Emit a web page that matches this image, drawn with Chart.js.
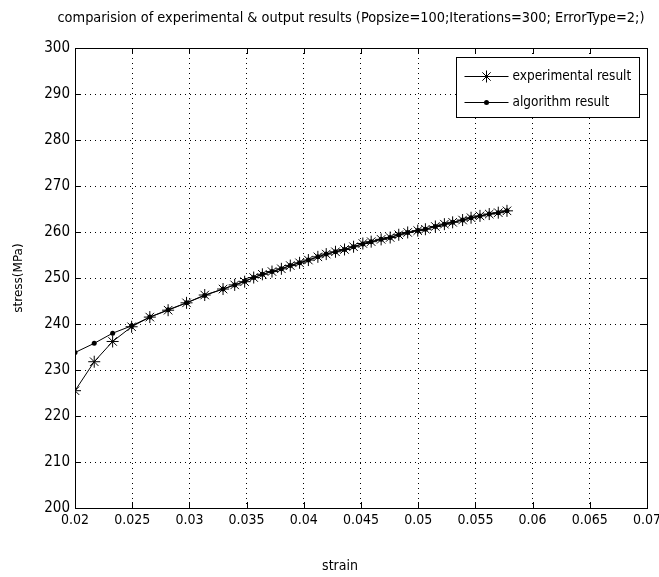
<!DOCTYPE html>
<html>
<head>
<meta charset="utf-8">
<script src="https://cdn.jsdelivr.net/npm/chart.js@4"></script>
<style>
html,body{margin:0;padding:0;background:#fff;}
#wrap{width:659px;height:577px;position:relative;}
</style>
</head>
<body>
<div id="wrap"><canvas id="c" width="659" height="577"></canvas></div>
<script>
const titleText = "comparision of experimental & output results (Popsize=100;Iterations=300; ErrorType=2;)";
const xLabel = "strain";
const yLabel = "stress(MPa)";
const seriesNames = ["experimental result", "algorithm result"];

const strain = [0.0200, 0.02168, 0.02329, 0.02495, 0.02654, 0.02814, 0.02975, 0.03134, 0.03294, 0.03396,
  0.03483, 0.03562, 0.03638, 0.03722, 0.03804, 0.03882, 0.03963, 0.04040, 0.04123, 0.04196,
  0.04277, 0.04356, 0.04435, 0.04516, 0.04589, 0.04676, 0.04755, 0.04830, 0.04908, 0.04996,
  0.05063, 0.05150, 0.05229, 0.05301, 0.05388, 0.05462, 0.05540, 0.05621, 0.05700, 0.05776];

const experimental = [225.5, 231.8, 236.2, 239.4, 241.5, 243.0, 244.6, 246.3, 247.6, 248.5,
  249.2, 250.1, 250.8, 251.4, 252.0, 252.7, 253.3, 253.9, 254.6, 255.2,
  255.7, 256.2, 256.8, 257.5, 257.9, 258.4, 258.8, 259.4, 259.9, 260.3,
  260.6, 261.2, 261.7, 262.1, 262.6, 263.1, 263.5, 263.9, 264.2, 264.6];

const algorithm = [233.8, 235.8, 238.0, 239.6, 241.5, 243.1, 244.6, 246.2, 247.6, 248.5,
  249.3, 250.1, 250.8, 251.4, 252.0, 252.7, 253.3, 253.9, 254.6, 255.2,
  255.7, 256.2, 256.8, 257.4, 257.9, 258.4, 258.8, 259.4, 259.9, 260.3,
  260.6, 261.2, 261.7, 262.1, 262.6, 263.1, 263.5, 263.9, 264.2, 264.6];

const xMin = 0.02, xMax = 0.07, xStep = 0.005;
const yMin = 200, yMax = 300, yStep = 10;

const FONT = '"DejaVu Sans Condensed", "Liberation Sans Narrow", "Liberation Sans", Arial, sans-serif';

const boxPlugin = {
  id: 'boxPlugin',
  afterDraw(chart) {
    const ctx = chart.ctx, a = chart.chartArea;
    const xs = chart.scales.x, ys = chart.scales.y;
    ctx.save();
    ctx.strokeStyle = '#000';
    ctx.lineWidth = 1;
    ctx.strokeRect(Math.round(a.left) + 0.5, Math.round(a.top) + 0.5, Math.round(a.right - a.left), Math.round(a.bottom - a.top));
    // inward tick marks
    const tl = 6;
    ctx.beginPath();
    xs.ticks.forEach(t => {
      const px = Math.round(xs.getPixelForValue(t.value)) + 0.5;
      ctx.moveTo(px, a.bottom); ctx.lineTo(px, a.bottom - tl);
      ctx.moveTo(px, a.top); ctx.lineTo(px, a.top + tl);
    });
    ys.ticks.forEach(t => {
      const py = Math.round(ys.getPixelForValue(t.value)) + 0.5;
      ctx.moveTo(a.left, py); ctx.lineTo(a.left + tl, py);
      ctx.moveTo(a.right, py); ctx.lineTo(a.right - tl, py);
    });
    ctx.stroke();
    // title and x label
    ctx.fillStyle = '#000';
    ctx.textAlign = 'center';
    ctx.textBaseline = 'middle';
    ctx.font = '14.4px ' + FONT;
    ctx.fillText(titleText, 351, 18);
    ctx.font = '14px ' + FONT;
    ctx.fillText(xLabel, 340, 566);
    // legend box
    const bw = 183, bh = 60;
    const bx = Math.round(a.right - 8 - bw) + 0.5, by = Math.round(a.top + 9) + 0.5;
    ctx.fillStyle = '#fff';
    ctx.fillRect(bx, by, bw, bh);
    ctx.strokeRect(bx, by, bw, bh);
    ctx.font = '13.5px ' + FONT;
    ctx.textAlign = 'left';
    ctx.textBaseline = 'middle';
    chart.data.datasets.forEach((ds, i) => {
      const ly = Math.round(by + 18 + i * 26) + 0.5;
      ctx.beginPath();
      ctx.moveTo(bx + 8, ly); ctx.lineTo(bx + 52, ly);
      ctx.strokeStyle = '#000'; ctx.lineWidth = 1; ctx.stroke();
      const mx = bx + 30;
      if (ds.pointStyle === 'star') {
        const r = 6;
        ctx.beginPath();
        ctx.moveTo(mx, ly - r); ctx.lineTo(mx, ly + r);
        ctx.moveTo(mx - r * 0.7, ly - r * 0.7); ctx.lineTo(mx + r * 0.7, ly + r * 0.7);
        ctx.moveTo(mx + r * 0.7, ly - r * 0.7); ctx.lineTo(mx - r * 0.7, ly + r * 0.7);
        ctx.moveTo(mx - r, ly); ctx.lineTo(mx + r, ly);
        ctx.stroke();
      } else {
        ctx.beginPath(); ctx.arc(mx, ly, 2.5, 0, Math.PI * 2); ctx.fillStyle = '#000'; ctx.fill();
      }
      ctx.fillStyle = '#000';
      ctx.fillText(ds.label, bx + 56, ly);
    });
    ctx.restore();
  }
};

const toPts = (xs, ys) => xs.map((x, i) => ({ x: x, y: ys[i] }));

new Chart(document.getElementById('c'), {
  type: 'line',
  data: {
    datasets: [
      {
        label: seriesNames[0],
        data: toPts(strain, experimental),
        borderColor: '#000', backgroundColor: '#000', borderWidth: 1,
        pointStyle: 'star', pointRadius: 6, pointBorderWidth: 1, pointBorderColor: '#000',
        tension: 0, fill: false
      },
      {
        label: seriesNames[1],
        data: toPts(strain, algorithm),
        borderColor: '#000', backgroundColor: '#000', borderWidth: 1,
        pointStyle: 'circle', pointRadius: 2.5, pointBorderWidth: 0, pointBackgroundColor: '#000',
        tension: 0, fill: false
      }
    ]
  },
  options: {
    responsive: false,
    animation: false,
    devicePixelRatio: 1,
    layout: { padding: { left: 0, right: 12, top: 48, bottom: 0 } },
    plugins: {
      legend: { display: false },
      tooltip: { enabled: false },
      title: { display: false }
    },
    scales: {
      x: {
        type: 'linear', min: xMin, max: xMax,
        afterBuildTicks(scale) {
          const t = [];
          for (let i = 0; i <= Math.round((xMax - xMin) / xStep); i++) t.push({ value: +(xMin + i * xStep).toFixed(4) });
          scale.ticks = t;
        },
        ticks: {
          color: '#000', padding: 4, maxRotation: 0, autoSkip: false,
          font: { family: FONT, size: 14 },
          callback: v => String(+v.toFixed(4))
        },
        grid: { color: '#000', lineWidth: 1, drawTicks: false },
        border: { display: false, dash: [1, 4] },
        title: { display: false },
        afterFit(scale) { scale.height = 69; scale.paddingRight = 0; scale.paddingLeft = 0; }
      },
      y: {
        type: 'linear', min: yMin, max: yMax,
        ticks: {
          stepSize: yStep, color: '#000', padding: 5,
          font: { family: FONT, size: 15 }
        },
        grid: { color: '#000', lineWidth: 1, drawTicks: false },
        border: { display: false, dash: [1, 4] },
        title: { display: true, text: yLabel, color: '#000', font: { family: '"DejaVu Sans", sans-serif', size: 12 }, padding: { top: 12, bottom: 14 } },
        afterFit(scale) { scale.width = 75; scale.paddingTop = 0; scale.paddingBottom = 0; }
      }
    }
  },
  plugins: [boxPlugin]
});
</script>
</body>
</html>
